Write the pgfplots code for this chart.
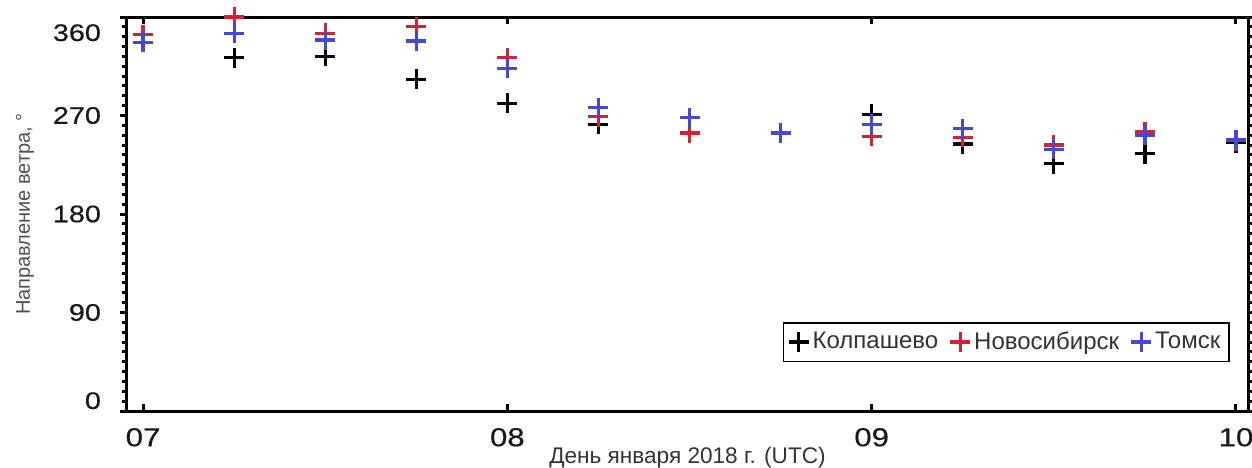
\documentclass[border=0pt]{standalone}
\usepackage{pgfplots}
\pgfplotsset{compat=1.18}
\usepackage{fontspec}
\setmainfont{Liberation Sans}
\newfontfamily\tickfont{Liberation Sans}[FakeStretch=1.2,FakeBold=0.4]
\definecolor{cred}{RGB}{210,35,50}
\definecolor{cblue}{RGB}{70,70,215}
\definecolor{labgray}{RGB}{85,75,90}
\begin{document}
\begin{tikzpicture}
\path[use as bounding box] (-63.5pt,-28pt) rectangle (562.5pt,205.5pt);
\begin{axis}[
  at={(0,0)}, anchor=south west,
  scale only axis, width=560.5pt, height=197pt,
  xmin=6.956, xmax=10.033, ymin=0, ymax=360,
  clip=false,
  axis line style={line width=1.5pt},
  xtick={7,8,9,10}, xticklabels={07,08,09,10},
  ytick={0,90,180,270,360},
  yticklabels={\raisebox{1pt}[0pt][0pt]{0},90,180,270,\raisebox{-12pt}[0pt][0pt]{360}},
  minor y tick num=9,
  xtick pos=both, ytick pos=both,
  xticklabel pos=left, yticklabel pos=left,
  xtick align=inside, ytick align=outside,
  major tick length=3.5pt, minor tick length=2.4pt,
  every tick/.append style={line width=1.5pt, black},
  tick label style={font=\tickfont\fontsize{12}{14}\selectfont, text=black!90},
  xticklabel style={yshift=-5pt, font=\tickfont\fontsize{13}{15}\selectfont},
  yticklabel style={xshift=-6pt},
  xlabel={День января 2018 г. (UTC)},
  ylabel={Направление ветра, °},
  xlabel style={at={(axis description cs:0.5,0)}, anchor=center, yshift=-23.5pt, font=\fontsize{11.3}{13}\selectfont, text=black!80},
  ylabel style={at={([xshift=-51pt]axis description cs:0,0.5)}, anchor=center, font=\fontsize{10}{12}\selectfont, text=labgray},
  legend columns=3,
  legend style={at={(axis description cs:0.984,0.124)}, anchor=south east, draw=black, line width=0.8pt, fill=white,
    font=\fontsize{12}{14}\selectfont, text=black!80, inner sep=2.5pt,
    /tikz/every even column/.append style={column sep=4pt}},
  legend cell align=left,
]
\addplot[only marks, mark=+, mark size=5pt, line width=1.6pt, black] coordinates {
(7.0,344) (7.25,323) (7.5,324) (7.75,303) (8.0,281) (8.25,262) (8.5,254) (8.75,254) (9.0,271) (9.25,244) (9.5,226) (9.75,235) (10.0,245)};
\addlegendentry{Колпашево}
\addplot[only marks, mark=+, mark size=5pt, line width=1.6pt, cred] coordinates {
(7.0,344) (7.25,360) (7.5,345) (7.75,351) (8.0,323) (8.25,269) (8.5,254) (8.75,254) (9.0,251) (9.25,250) (9.5,243) (9.75,255) (10.0,247)};
\addlegendentry{Новосибирск}
\addplot[only marks, mark=+, mark size=5pt, line width=1.6pt, cblue] coordinates {
(7.0,337) (7.25,345) (7.5,339) (7.75,338) (8.0,313) (8.25,277) (8.5,268) (8.75,254) (9.0,262) (9.25,258) (9.5,239) (9.75,252) (10.0,248)};
\addlegendentry{Томск}
\end{axis}
\end{tikzpicture}
\end{document}
